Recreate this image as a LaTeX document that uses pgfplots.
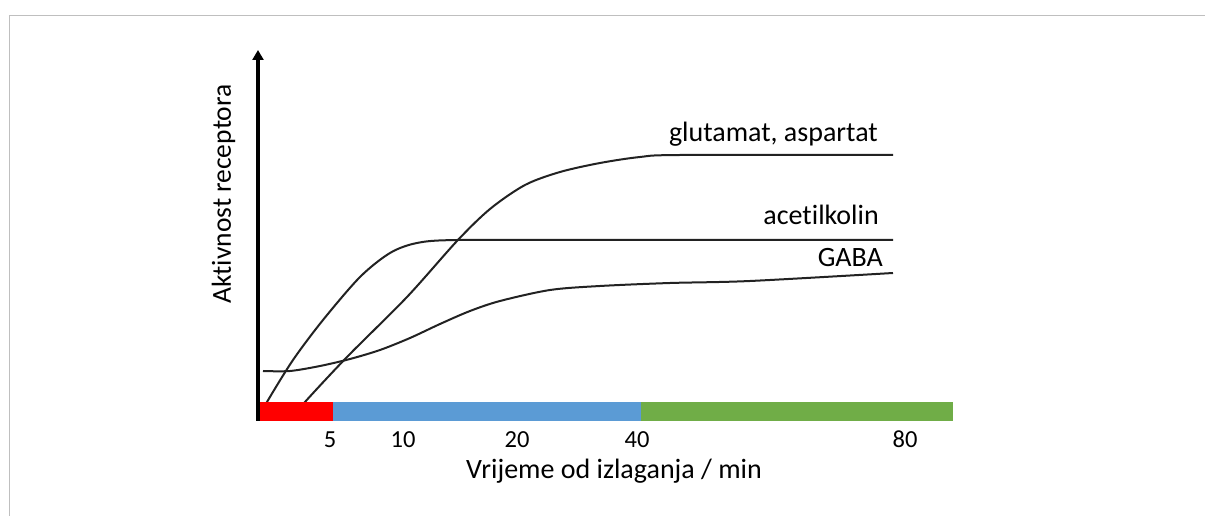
\documentclass[border=0pt]{standalone}
\usepackage{pgfplots}
\pgfplotsset{compat=1.18}
\usepackage{fontspec}
\setmainfont{Carlito}[Ligatures={NoCommon}]
\usetikzlibrary{arrows.meta}
\definecolor{cblue}{HTML}{5B9BD5}
\definecolor{cgreen}{HTML}{70AD47}
\definecolor{cred}{HTML}{FF0000}
\definecolor{curve}{HTML}{222222}
\begin{document}
\begin{tikzpicture}
\useasboundingbox (-258pt,-95pt) rectangle (947pt,421pt);
\begin{axis}[
  scale only axis,
  width=695pt, height=371pt,
  xmin=258, xmax=953, ymin=0, ymax=371,
  axis lines=none,
  clip=false,
  xtick=\empty, ytick=\empty,
]
% frame
\draw[color=black!25, line width=1.7pt] (axis cs:9,405.5) -- (axis cs:1205,405.5);
\draw[color=black!25, line width=0.9pt] (axis cs:9.3,405.5) -- (axis cs:9.3,-95);
% curves
\addplot[curve, line width=2pt, smooth, no marks] coordinates {
(264,11) (267,19) (293,61) (323,101) (360,144) (390,168) (417,178) (457,181) (600,181) (893,181)};
\addplot[curve, line width=2pt, smooth, no marks] coordinates {
(300,11) (305,19) (347,64) (407,124) (457,180) (490,212) (525,236) (560,249) (600,258) (640,264) (680,266) (893,266)};
\addplot[curve, line width=2pt, smooth, no marks] coordinates {
(263,50) (290,50) (320,55) (350,62) (380,71) (410,83) (440,97) (470,110) (500,120) (550,131) (600,135) (670,138) (750,140) (893,148)};
% bars
\addplot[fill=cred, draw=none] coordinates {(258,19) (333,19)} \closedcycle;
\addplot[fill=cblue, draw=none] coordinates {(333,19) (641,19)} \closedcycle;
\addplot[fill=cgreen, draw=none] coordinates {(641,19) (953,19)} \closedcycle;
% y axis arrow
\draw[line width=3.2pt, -{Triangle[length=10pt,width=11pt]}] (axis cs:258,0) -- (axis cs:258,371);
% tick labels
\node[font=\fontsize{24.5}{28}\selectfont, anchor=base, inner sep=0pt] at (axis cs:330,-27) {5};
\node[font=\fontsize{24.5}{28}\selectfont, anchor=base, inner sep=0pt] at (axis cs:403,-27) {10};
\node[font=\fontsize{24.5}{28}\selectfont, anchor=base, inner sep=0pt] at (axis cs:517,-27) {20};
\node[font=\fontsize{24.5}{28}\selectfont, anchor=base, inner sep=0pt] at (axis cs:637,-27) {40};
\node[font=\fontsize{24.5}{28}\selectfont, anchor=base, inner sep=0pt] at (axis cs:905,-27) {80};
% axis labels
\node[font=\fontsize{28}{32}\selectfont, anchor=base, inner sep=0pt] at (axis cs:614,-58) {Vrijeme od izlaganja / min};
\node[font=\fontsize{27.5}{32}\selectfont, anchor=base, inner sep=0pt, rotate=90] at (axis cs:231,227) {Aktivnost receptora};
% curve labels
\node[font=\fontsize{28}{32}\selectfont, anchor=base east, inner sep=0pt] at (axis cs:878,279) {glutamat, aspartat};
\node[font=\fontsize{28}{32}\selectfont, anchor=base east, inner sep=0pt] at (axis cs:879,196) {acetilkolin};
\node[font=\fontsize{28}{32}\selectfont, anchor=base east, inner sep=0pt] at (axis cs:883,154) {GABA};
\end{axis}
\end{tikzpicture}
\end{document}
